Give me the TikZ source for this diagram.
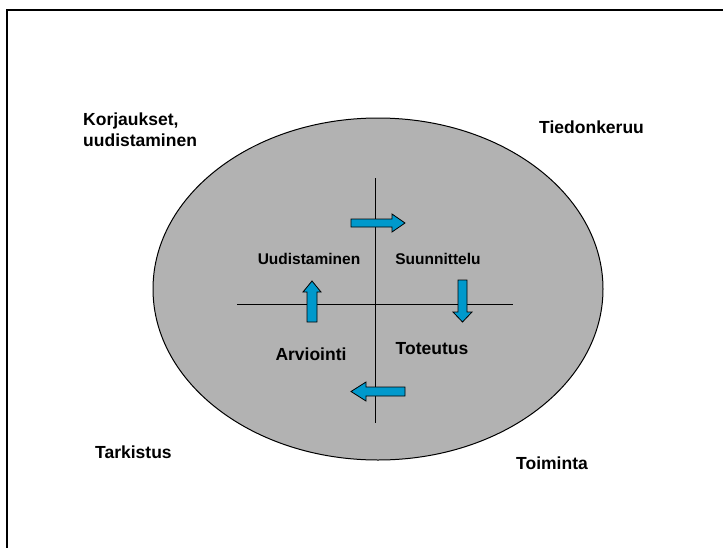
\documentclass[tikz,border=0pt]{standalone}
\usepackage{fontspec}
\setmainfont{Liberation Sans}
\definecolor{ellgray}{HTML}{B2B2B2}
\definecolor{arrblue}{HTML}{0099CC}
\begin{document}
\begin{tikzpicture}[x=1pt,y=-1pt,
  big/.style={font=\fontsize{17.5}{21}\selectfont\bfseries, inner sep=0pt, align=left},
  mid/.style={font=\fontsize{15.5}{18}\selectfont\bfseries, inner sep=0pt},
  blockarrow/.style={fill=arrblue, draw=black, line width=0.8pt, line join=miter},
  axisline/.style={draw=black, line width=0.8pt}]
\useasboundingbox (0,0) rectangle (723,547);
% frame
\draw[line width=2pt] (7,548) -- (7,9.5) -- (724,9.5);
% ellipse
\draw[fill=ellgray, line width=1pt] (378,289) ellipse [x radius=225, y radius=171];
% axes
\coordinate (vtop) at (375,178);
\coordinate (vbot) at (375,423);
\coordinate (hleft) at (237,304);
\coordinate (hright) at (513,304);
\draw[axisline] (vtop) -- (vbot);
\draw[axisline] (hleft) -- (hright);
% block arrows
% right
\draw[blockarrow] (351,219) -- (392,219) -- (392,214) -- (405,223) -- (392,232) -- (392,227) -- (351,227) -- cycle;
% down
\draw[blockarrow] (458,280) -- (467,280) -- (467,312) -- (472,312) -- (462.5,322) -- (453,312) -- (458,312) -- cycle;
% left
\draw[blockarrow] (405,387) -- (366,387) -- (366,382) -- (351,391.5) -- (366,401) -- (366,396) -- (405,396) -- cycle;
% up
\draw[blockarrow] (307,322) -- (307,292) -- (303,292) -- (312,281) -- (321,292) -- (317,292) -- (317,322) -- cycle;
% inner labels
\node[mid] (uud) at (309,259) {Uudistaminen};
\node[mid] (suu) at (438,259) {Suunnittelu};
\node[big] (arv) at (311,354) {Arviointi};
\node[big] (tot) at (432,349) {Toteutus};
% outer labels
\node[big, anchor=north west] (kor) at (83,113) {Korjaukset,\\uudistaminen};
\node[big, anchor=west] (tie) at (539,127) {Tiedonkeruu};
\node[big, anchor=west] (tar) at (95,452) {Tarkistus};
\node[big, anchor=west] (toi) at (516,463) {Toiminta};
\end{tikzpicture}
\end{document}
